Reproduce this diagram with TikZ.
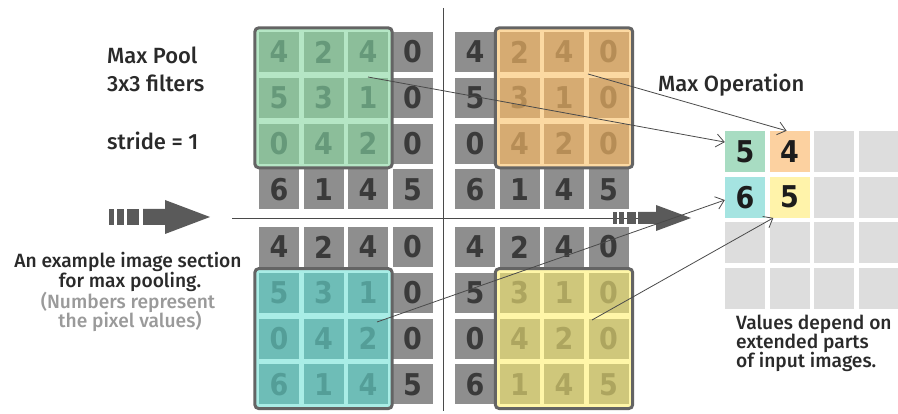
\documentclass[tikz,border=0pt]{standalone}
\usepackage{fontspec}
\setmainfont{Liberation Sans}
\newfontfamily\medfont{Fira Sans Medium}
\newfontfamily\digfont{DejaVu Sans Condensed}
\usetikzlibrary{arrows.meta,calc}
\definecolor{cellgray}{HTML}{8E8E8E}
\definecolor{digitgray}{HTML}{3A3A3A}
\definecolor{gcell}{HTML}{8CBE9A}\definecolor{ggap}{HTML}{B5E6C5}\definecolor{gtext}{HTML}{66997A}
\definecolor{ocell}{HTML}{D6AB72}\definecolor{ogap}{HTML}{FCD9A2}\definecolor{otext}{HTML}{B68D56}
\definecolor{tcell}{HTML}{6EBDB7}\definecolor{tgap}{HTML}{A9EDE6}\definecolor{ttext}{HTML}{549E98}
\definecolor{ycell}{HTML}{CFC77B}\definecolor{ygap}{HTML}{FFF6A8}\definecolor{ytext}{HTML}{ADA55F}
\definecolor{framegray}{HTML}{646464}
\definecolor{outg}{HTML}{A8DCC2}\definecolor{outo}{HTML}{FCD1A0}
\definecolor{outc}{HTML}{A5E4E1}\definecolor{outy}{HTML}{FFF3AA}
\definecolor{outl}{HTML}{DDDDDD}
\definecolor{arrowgray}{HTML}{5A5A5A}
\definecolor{linegray}{HTML}{4A4A4A}
\definecolor{notegray}{HTML}{9A9A9A}
\definecolor{txt}{HTML}{2A2A2A}
\definecolor{outtxt}{HTML}{1C1C1C}
\tikzset{
  cellbox/.style={minimum width=40pt, minimum height=40pt, inner sep=0pt,
    font=\digfont\bfseries\fontsize{30}{30}\selectfont},
  outcell/.style={minimum width=40pt, minimum height=41pt, inner sep=0pt,
    font=\digfont\bfseries\fontsize{30}{30}\selectfont, text=outtxt},
  lbl/.style={inner sep=0pt, text=txt, font=\medfont\fontsize{22}{22}\selectfont},
  sublbl/.style={inner sep=0pt, text=txt, font=\medfont\fontsize{19.2}{19.2}\selectfont},
  conn/.style={draw=linegray, line width=0.8pt, -{Straight Barb[length=8pt,width=13pt,line width=0.8pt]}},
  frameline/.style={draw=framegray, line width=3pt, rounded corners=4pt},
}
\begin{document}
\begin{tikzpicture}[x=1pt,y=-1pt]
\useasboundingbox (0,0) rectangle (898,414);
\fill[white] (0,0) rectangle (898,414);

% divider lines
\coordinate (vtop) at (443,8);
\coordinate (vbot) at (443,411);
\draw[linegray, line width=0.9pt] (vtop) -- (vbot);
\coordinate (hl) at (232,218);
\coordinate (hr) at (640,218);
\draw[linegray, line width=0.9pt] (hl) -- (hr);

% four input grids
\foreach \gx/\gy/\gn/\rl/\cl/\tc in {259/32/tl/0/0/g, 455/32/tr/0/1/o, 259/227/bl/1/0/t, 455/227/br/1/1/y} {
  \node[fill=\tc gap, rounded corners=4pt, minimum width=137pt, minimum height=139.6pt, inner sep=0pt]
    (\gn box) at ({\gx+44.5*\cl+64.5},{\gy+45.8*\rl+65.8}) {};
  \foreach \v [count=\i from 0] in {4,2,4,0,5,3,1,0,0,4,2,0,6,1,4,5} {
    \pgfmathtruncatemacro\r{floor(\i/4)}
    \pgfmathtruncatemacro\c{mod(\i,4)}
    \pgfmathtruncatemacro\inov{(\r>=\rl)&&(\r<=\rl+2)&&(\c>=\cl)&&(\c<=\cl+2)}
    \ifnum\inov=1
      \node[cellbox, fill=\tc cell, text=\tc text] (\gn-\r-\c) at ({\gx+44.5*\c+20},{\gy+45.8*\r+20}) {\v};
    \else
      \node[cellbox, fill=cellgray, text=digitgray] (\gn-\r-\c) at ({\gx+44.5*\c+20},{\gy+45.8*\r+20}) {\v};
    \fi
  }
  \draw[frameline] (\gn box.north west) rectangle (\gn box.south east);
}

% output grid
\foreach \r in {0,1,2,3} {
  \foreach \c in {0,1,2,3} {
    \node[outcell, fill=outl] (o-\r-\c) at ({745+44.5*\c},{151.5+45.7*\r}) {};
  }
}
\node[outcell, fill=outg] (o11) at (745,151.5) {5};
\node[outcell, fill=outo] (o12) at (789.5,151.5) {4};
\node[outcell, fill=outc] (o21) at (745,197.2) {6};
\node[outcell, fill=outy] (o22) at (789.5,197.2) {5};

% big arrow
\fill[arrowgray] (109,209) rectangle (114,225);
\fill[arrowgray] (117,209) rectangle (124,225);
\fill[arrowgray] (127,209) rectangle (139,225);
\fill[arrowgray] (143,209) -- (165,209) -- (165,200) -- (210,217) -- (165,234) -- (165,225) -- (143,225) -- cycle;

% small arrow
\fill[arrowgray] (613,212) rectangle (617,224);
\fill[arrowgray] (619,212) rectangle (624,224);
\fill[arrowgray] (627,212) rectangle (636,224);
\fill[arrowgray] (638,212) -- (656,212) -- (656,205) -- (691,218) -- (656,231) -- (656,224) -- (638,224) -- cycle;

% labels
\node[lbl, anchor=base west] (mp) at (107,64) {Max Pool};
\node[lbl, anchor=base west] (f33) at (107,92) {3x3 filters};
\node[lbl, anchor=base west] (st) at (107,150) {stride = 1};
\node[lbl, anchor=base west] (mo) at (658,92) {Max Operation};

\node[sublbl, anchor=base] (ex1) at (128,268) {An example image section};
\node[sublbl, anchor=base] (ex2) at (130,288) {for max pooling.};
\node[sublbl, anchor=base, text=notegray] (ex3) at (128,309) {(Numbers represent};
\node[sublbl, anchor=base, text=notegray] (ex4) at (130,328) {the pixel values)};

\node[sublbl, anchor=base west] (v1) at (736,330) {Values depend on};
\node[sublbl, anchor=base west] (v2) at (736,349) {extended parts};
\node[sublbl, anchor=base west] (v3) at (736,368) {of input images.};

% connectors
\coordinate (s1) at (368,77);
\coordinate (s2) at (588,74);
\coordinate (s3) at (377,322);
\coordinate (s4) at (592,320);
\draw[conn] (s1) -- (o11.155);
\draw[conn] (s2) -- (o12.98);
\draw[conn] (s3) -- (o21.188);
\draw[conn] (s4) -- (o22.232);
\end{tikzpicture}
\end{document}
